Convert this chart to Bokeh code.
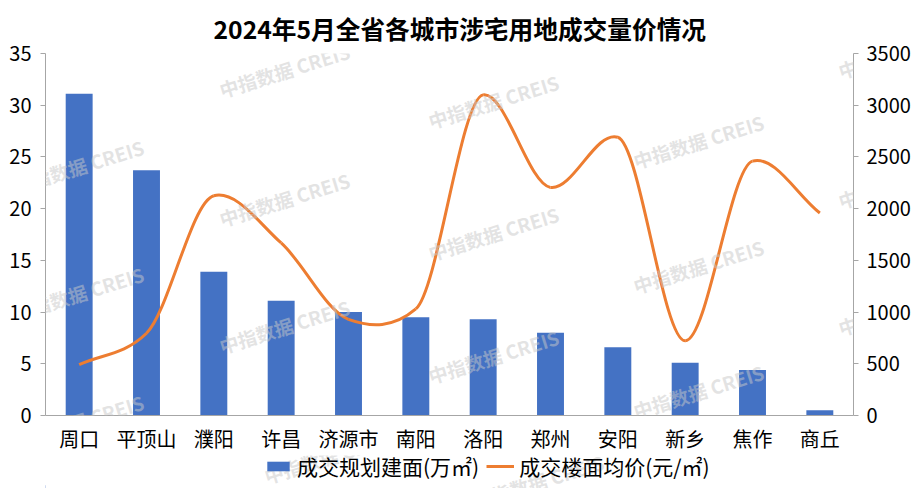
from bokeh.plotting import figure
from bokeh.layouts import column
from bokeh.models import (FactorRange, Range1d, LinearAxis, FixedTicker,
                          Legend, LegendItem, Label, ColumnDataSource)
from bokeh.embed import file_html
from bokeh.resources import INLINE
import math

# ---------------- data ----------------
cities = ["周口", "平顶山", "濮阳", "许昌", "济源市", "南阳",
          "洛阳", "郑州", "安阳", "新乡", "焦作", "商丘"]
area = [31.1, 23.7, 13.9, 11.1, 10.0, 9.5, 9.3, 8.0, 6.6, 5.1, 4.4, 0.5]
price = [492, 795, 2125, 1668, 930, 1030, 3100, 2205, 2690, 722, 2459, 1958]
left_ticks = [0, 5, 10, 15, 20, 25, 30, 35]
right_ticks = [0, 500, 1000, 1500, 2000, 2500, 3000, 3500]
title_text = "2024年5月全省各城市涉宅用地成交量价情况"
area_name = "成交规划建面(万㎡)"
price_name = "成交楼面均价(元/㎡)"
watermark_text = "中指数据  CREIS"
# watermark centres (canvas px, from top)
wm_x = [80, 80, 80, 80, 286, 286, 286, 286, 495, 495, 495, 495,
        700, 700, 700, 700, 905, 905, 905, 905]
wm_y = [36, 165, 292, 420, 69, 198, 325, 455, 100, 232, 355, 480,
        2, 140, 265, 390, 50, 180, 307, 432]

FONT = "Noto Sans CJK SC"
BLUE = "#4472C4"
ORANGE = "#ED7D31"
AXIS_GRAY = "#A6A6A6"

W, H = 922, 488
MH = 455                        # main figure height
LEG_H = H - MH                  # legend strip below the chart
FL, FR, FT, FB = 45, 853, 52, 415   # frame edges in the picture

p = figure(width=W, height=MH,
           x_range=FactorRange(*cities, range_padding=0),
           y_range=Range1d(0, 35),
           output_backend="svg", toolbar_location=None,
           min_border_left=FL, min_border_right=W - FR,
           min_border_top=FT, min_border_bottom=MH - FB)
p.extra_y_ranges = {"price": Range1d(0, 3500)}

p.title.text = title_text
p.title.align = "left"
p.title.offset = 168
p.title.standoff = 15
p.title.text_font = FONT
p.title.text_font_size = "24.7px"
p.title.text_font_style = "bold"
p.title.text_color = "#000000"

p.xgrid.visible = False
p.ygrid.visible = False
p.outline_line_color = None
p.background_fill_color = "white"
p.border_fill_color = "white"

# bars
src = ColumnDataSource(dict(city=cities, area=area))
bars = p.vbar(x="city", top="area", width=0.4, source=src,
              fill_color=BLUE, line_color=None)

# smooth line: cubic Hermite/bezier segments through the points; the tangent
# at each point bisects the directions (in pixels) of its two neighbouring segments
n = len(price)
xs = [i + 0.5 for i in range(n)]
px_x = (FR - FL) / n            # pixels per category
px_y = (FB - FT) / 3500.0       # pixels per price unit
def unit(i, j):
    dx = (xs[j] - xs[i]) * px_x
    dy = (price[j] - price[i]) * px_y
    d = math.hypot(dx, dy)
    return dx / d, dy / d
slopes = []                     # price units per category
for i in range(n):
    ux, uy = 0.0, 0.0
    if i > 0:
        a, b = unit(i - 1, i); ux += a; uy += b
    if i < n - 1:
        a, b = unit(i, i + 1); ux += a; uy += b
    slopes.append((uy / ux) * px_x / px_y)
x0 = xs[:-1]; y0 = price[:-1]; x1 = xs[1:]; y1 = price[1:]
cx0 = [x + 1.0 / 3 for x in x0]
cy0 = [price[i] + slopes[i] / 3.0 for i in range(n - 1)]
cx1 = [x - 1.0 / 3 for x in x1]
cy1 = [price[i + 1] - slopes[i + 1] / 3.0 for i in range(n - 1)]
curve = p.bezier(x0=x0, y0=y0, x1=x1, y1=y1, cx0=cx0, cy0=cy0, cx1=cx1, cy1=cy1,
                 line_color=ORANGE, line_width=3, y_range_name="price")

# axes
ya = p.yaxis[0]
ya.ticker = FixedTicker(ticks=left_ticks)
ya.axis_line_color = AXIS_GRAY
ya.major_tick_line_color = AXIS_GRAY
ya.major_tick_in = 0
ya.major_tick_out = 5
ya.minor_tick_line_color = None
ya.major_label_text_font = FONT
ya.major_label_text_font_size = "20px"
ya.major_label_text_color = "#000000"
ya.major_label_standoff = 9

ra = LinearAxis(y_range_name="price", ticker=FixedTicker(ticks=right_ticks))
ra.axis_line_color = AXIS_GRAY
ra.major_tick_line_color = AXIS_GRAY
ra.major_tick_in = 0
ra.major_tick_out = 5
ra.minor_tick_line_color = None
ra.major_label_text_font = FONT
ra.major_label_text_font_size = "20px"
ra.major_label_text_color = "#000000"
ra.major_label_standoff = 8
p.add_layout(ra, "right")

xa = p.xaxis[0]
xa.axis_line_color = AXIS_GRAY
xa.major_tick_line_color = None
xa.major_tick_in = 0
xa.major_tick_out = 0
xa.minor_tick_line_color = None
xa.major_label_text_font = FONT
xa.major_label_text_font_size = "20px"
xa.major_label_text_color = "#000000"
xa.major_label_standoff = 8

def add_watermarks(fig, left, right, top, bottom):
    # only the watermarks whose centre lies within (or just by) this frame
    for cx, cy in zip(wm_x, wm_y):
        if not (left - 40 <= cx <= right + 60 and top - 15 <= cy <= bottom + 15):
            continue
        fig.add_layout(Label(x=cx - left, y=bottom - cy,
                             x_units="screen", y_units="screen",
                             text=watermark_text, angle=0.30,
                             text_align="center", text_baseline="middle",
                             text_font=FONT, text_font_size="19px",
                             text_font_style="bold",
                             text_color="#C8C8C8", text_alpha=0.5))

add_watermarks(p, FL, FR, FT, FB)

# ---------------- legend strip ----------------
lf = figure(width=W, height=LEG_H, x_range=Range1d(0, 10), y_range=Range1d(0, 10),
            output_backend="svg", toolbar_location=None,
            x_axis_type=None, y_axis_type=None, min_border=0)
lf.outline_line_color = None
lf.background_fill_color = "white"
lf.border_fill_color = "white"
lb = lf.vbar(x=[-100], top=[1], width=0.4, fill_color=BLUE, line_color=None)
ll = lf.line(x=[-100, -90], y=[1, 1], line_color=ORANGE, line_width=3)
legend = Legend(items=[LegendItem(label=area_name, renderers=[lb]),
                       LegendItem(label=price_name, renderers=[ll])],
                orientation="horizontal", location=(219, 7),
                label_text_font=FONT, label_text_font_size="21px",
                label_text_color="#000000",
                glyph_width=28, glyph_height=12, spacing=7,
                padding=0, margin=0, border_line_color=None,
                background_fill_alpha=0)
lf.add_layout(legend, "center")
add_watermarks(lf, 0, W, MH, H)

layout = column(p, lf, spacing=0)
open("out.html", "w").write(file_html(layout, INLINE))
